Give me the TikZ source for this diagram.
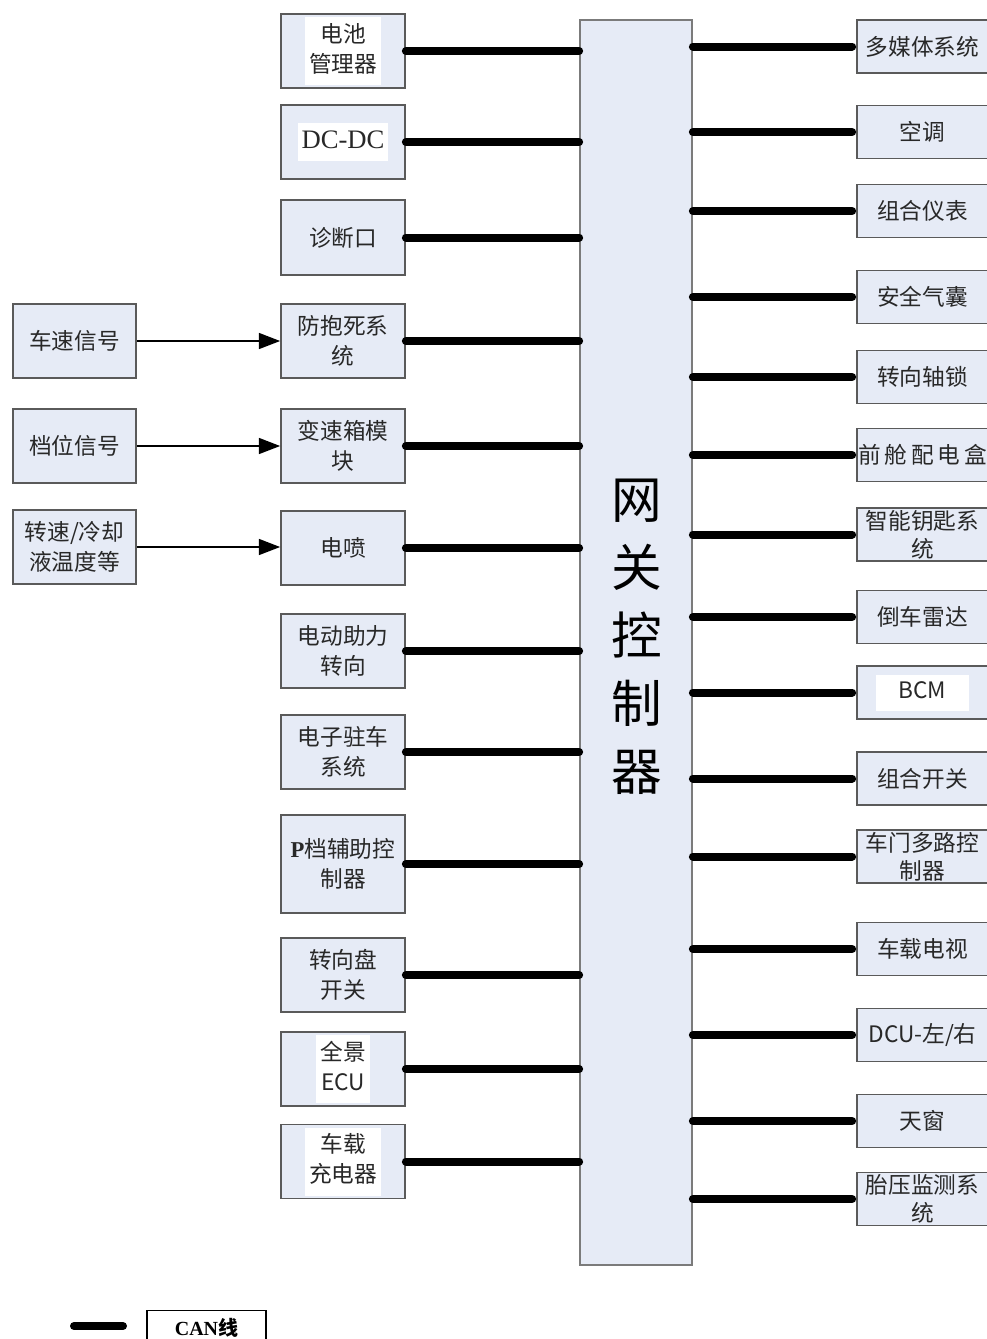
\documentclass[tikz,border=0pt]{standalone}
\usepackage{fontspec}
\setmainfont{Liberation Serif}
\newfontfamily\cjk{Noto Sans CJK SC}
\usetikzlibrary{arrows.meta}
\definecolor{boxfill}{RGB}{230,235,246}
\definecolor{edge}{RGB}{90,90,90}
\definecolor{txt}{RGB}{40,40,40}
\setlength{\fboxsep}{3pt}
\newcommand{\wpatch}[1]{\colorbox{white}{\begin{tabular}{@{}c@{}}#1\end{tabular}}}
\begin{document}
\begin{tikzpicture}[x=0.75pt,y=-0.75pt,
  box/.style={draw=edge, fill=boxfill, line width=1.3pt, inner sep=0pt, align=center,
    text=txt, font=\cjk\fontsize{17}{22.5}\selectfont},
  lbox/.style={box, minimum width=93pt, minimum height=55.5pt},
  rbox/.style={box, minimum width=98.25pt, minimum height=39.75pt, font=\cjk\fontsize{17}{21}\selectfont},
  can/.style={line width=6pt, line cap=round},
  sig/.style={line width=1.3pt, -{Triangle[length=16pt,width=12pt]}}]
\useasboundingbox (0,0) rectangle (986,1339);

% gateway
\node[box, draw=edge!80, minimum width=84pt, minimum height=933.75pt] (gw) at (636,642.5) {};
\node[text=black, font=\cjk\fontsize{38}{51}\selectfont, align=center, inner sep=0pt] (gwt) at (637,637) {网\\关\\控\\制\\器};

% left input boxes
\node[lbox, minimum width=92.25pt] (vs)  at (74.5,341) {车速信号};
\node[lbox, minimum width=92.25pt] (gear) at (74.5,446) {档位信号};
\node[lbox, minimum width=92.25pt] (rpm) at (74.5,547) {转速/冷却\\液温度等};

% left column
\node[lbox] (bms)  at (343,51)   {\wpatch{电池\\管理器}};
\node[lbox] (dcdc) at (343,142)  {\wpatch{\rmfamily\fontsize{20}{22}\selectfont DC-DC}};
\node[lbox, minimum height=56.25pt] (diag) at (343,237.5) {诊断口};
\node[lbox] (abs)  at (343,341)  {防抱死系\\统};
\node[lbox] (tcu)  at (343,446)  {变速箱模\\块};
\node[lbox] (efi)  at (343,548)  {电喷};
\node[lbox] (eps)  at (343,651)  {电动助力\\转向};
\node[lbox] (epb)  at (343,752)  {电子驻车\\系统};
\node[lbox, minimum height=73.5pt] (pctl) at (343,864) {{\rmfamily\bfseries P}档辅助控\\制器};
\node[lbox] (swc)  at (343,975)  {转向盘\\开关};
\node[lbox] (ecu)  at (343,1069) {\wpatch{全景\\ECU}};
\node[lbox] (obc)  at (343,1161.5) {\wpatch{车载\\充电器}};

% right column
\node[rbox] (mm)   at (922.5,46.5)  {多媒体系统};
\node[rbox] (ac)   at (922.5,132)   {空调};
\node[rbox] (ic)   at (922.5,211)   {组合仪表};
\node[rbox] (bag)  at (922.5,297)   {安全气囊};
\node[rbox] (lock) at (922.5,377)   {转向轴锁};
\node[rbox] (fb)   at (922.5,455)   {前\,舱\,配\,电\,盒};
\node[rbox] (key)  at (922.5,534.5) {智能钥匙系\\统};
\node[rbox] (pdc)  at (922.5,617)   {倒车雷达};
\node[rbox] (bcm)  at (922.5,692.5) {\wpatch{\hspace*{14pt}BCM\hspace*{14pt}}};
\node[rbox] (cs)   at (922.5,778.5) {组合开关};
\node[rbox] (door) at (922.5,856.5) {车门多路控\\制器};
\node[rbox] (tv)   at (922.5,949)   {车载电视};
\node[rbox] (dcu)  at (922.5,1035)  {DCU-左/右};
\node[rbox] (roof) at (922.5,1121)  {天窗};
\node[rbox] (tpms) at (922.5,1199)  {胎压监测系\\统};

% signal arrows
\draw[sig] (vs.east) -- (vs.east -| abs.west);
\draw[sig] (gear.east) -- (gear.east -| tcu.west);
\draw[sig] (rpm.east) -- (rpm.east -| efi.west);

% CAN lines left
\foreach \n in {bms,dcdc,diag,abs,tcu,efi,eps,epb,pctl,swc,ecu,obc}
  \draw[can] (\n.east) -- (\n.east -| gw.west);
% CAN lines right
\foreach \n in {mm,ac,ic,bag,lock,fb,key,pdc,bcm,cs,door,tv,dcu,roof,tpms}
  \draw[can, shorten >=3pt] (\n.west -| gw.east) -- (\n.west);

% legend
\coordinate (l1) at (74,1326);
\coordinate (l2) at (123,1326);
\draw[can] (l1) -- (l2);
\node[draw=black, fill=white, line width=1pt, minimum width=89.25pt, minimum height=26pt, inner sep=0pt,
  font=\fontsize{15}{18}\selectfont] (leg) at (206.5,1328) {\textbf{CAN}{\cjk\bfseries 线}};
\end{tikzpicture}
\end{document}
